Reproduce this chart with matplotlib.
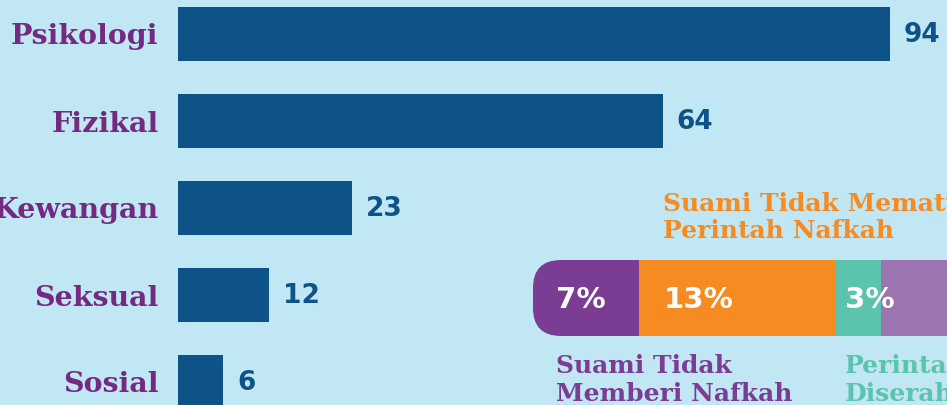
import matplotlib.pyplot as plt
from matplotlib.patches import FancyBboxPatch

# bar chart data
categories = ["Psikologi", "Fizikal", "Kewangan", "Seksual", "Sosial"]
counts = [94, 64, 23, 12, 6]

# stacked percentage bar (last segment runs off the edge)
seg_values = [7, 13, 3, 10]
seg_labels = ["7%", "13%", "3%", ""]
seg_colors = ["#7B3C94", "#F68B21", "#5CC3AD", "#9C74B2"]

BG = "#C1E7F5"
BAR = "#0D5387"
PURPLE = "#732A80"

W, H = 947, 405


def main():
    fig = plt.figure(figsize=(W / 100, H / 100), dpi=100, facecolor=BG)

    # ---- horizontal bars ----
    ax = fig.add_axes([178 / W, 0, (W - 178) / W, 1])
    ax.set_facecolor(BG)
    ypos = list(range(len(categories)))
    ax.barh(ypos, counts, height=54 / 87, color=BAR)
    ax.set_xlim(0, (W - 178) / 7.574)
    ax.set_ylim(405 / 87 - 34 / 87, -34 / 87)
    ax.set_yticks(ypos)
    ax.set_yticklabels(categories, family="DejaVu Serif", fontweight="bold",
                       fontsize=20.5, color=PURPLE)
    ax.tick_params(axis="y", length=0, pad=14)
    ax.set_xticks([])
    for s in ax.spines.values():
        s.set_visible(False)
    for y, v in zip(ypos, counts):
        ax.annotate(str(v), (v, y), xytext=(10, -1), textcoords="offset points",
                    va="center", ha="left", fontsize=19, fontweight="bold",
                    color=BAR)

    # ---- stacked percentage bar ----
    ax2 = fig.add_axes([533 / W, (H - 336) / H, (W - 533) / W, 76 / H])
    ax2.set_xlim(0, (W - 533) / 15.15)
    ax2.set_ylim(-0.5, 0.5)
    ax2.axis("off")
    total = sum(seg_values)
    clip = FancyBboxPatch((0, -0.5), total, 1,
                          boxstyle="round,pad=0,rounding_size=1.85",
                          mutation_aspect=15.15 / 76,
                          transform=ax2.transData, facecolor="none",
                          edgecolor="none")
    ax2.add_patch(clip)
    left = 0
    offsets = [1.5, 1.6, 0.6, 0.6]
    for v, lab, c, off in zip(seg_values, seg_labels, seg_colors, offsets):
        bars = ax2.barh(0, v, left=left, height=1, color=c)
        for b in bars:
            b.set_clip_path(clip)
        ax2.text(left + off, -0.02, lab, va="center", ha="left", fontsize=21,
                 fontweight="bold", color="white")
        left += v

    tr = ax2.get_xaxis_transform()
    kw = dict(transform=tr, va="top", ha="left", family="DejaVu Serif",
              fontweight="bold", fontsize=18, linespacing=1.2, clip_on=False)
    ax2.text(seg_values[0] + 1.6, 1.9, "Suami Tidak Mematuhi\nPerintah Nafkah",
             color="#F68B21", **kw)
    ax2.text(1.5, -0.24, "Suami Tidak\nMemberi Nafkah", color="#7B3C94", **kw)
    ax2.text(seg_values[0] + seg_values[1] + 0.6, -0.24, "Perintah\nDiserahkan",
             color="#5CC3AD", **kw)

    fig.savefig("out.png", dpi=100, facecolor=BG)


if __name__ == "__main__":
    main()
